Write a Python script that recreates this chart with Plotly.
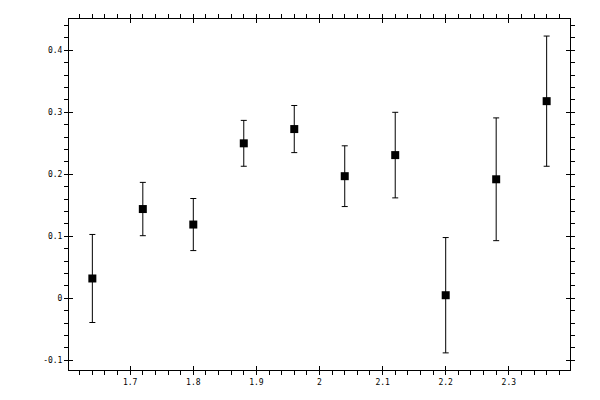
import plotly.graph_objects as go

# measured points with symmetric errors
x_vals = [1.64, 1.72, 1.80, 1.88, 1.96, 2.04, 2.12, 2.20, 2.28, 2.36]
y_vals = [0.032, 0.144, 0.119, 0.250, 0.273, 0.197, 0.231, 0.005, 0.192, 0.318]
y_errs = [0.071, 0.043, 0.042, 0.037, 0.038, 0.049, 0.069, 0.093, 0.099, 0.105]

x_ticks = [1.7, 1.8, 1.9, 2.0, 2.1, 2.2, 2.3]
x_ticktext = ["1.7", "1.8", "1.9", "2", "2.1", "2.2", "2.3"]
y_ticks = [-0.1, 0, 0.1, 0.2, 0.3, 0.4]
y_ticktext = ["-0.1", "0", "0.1", "0.2", "0.3", "0.4"]

x_range = [1.603, 2.397]
y_range = [-0.1156, 0.4505]

fig = go.Figure()
fig.add_trace(go.Scatter(
    x=x_vals, y=y_vals, mode="markers",
    marker=dict(symbol="square", size=8, color="black"),
    error_y=dict(type="data", array=y_errs, color="black", thickness=1, width=3),
    showlegend=False,
))
# dummy trace so the inward-tick overlay axes get drawn
fig.add_trace(go.Scatter(x=[x_ticks[0]], y=[y_ticks[0]], xaxis="x2", yaxis="y2",
                         mode="markers", marker=dict(opacity=0), showlegend=False,
                         hoverinfo="skip"))

axis_common = dict(showgrid=False, zeroline=False, showline=True, linecolor="black",
                   linewidth=1, mirror="ticks", tickcolor="black", tickwidth=1,
                   automargin=False)

# margins allow for the 8px page offset of the html body
fig.update_layout(
    width=600, height=400,
    margin=dict(l=61, r=38, t=11, b=38),
    paper_bgcolor="white", plot_bgcolor="white",
    font=dict(family="DejaVu Sans Mono", size=8, color="black"),
    xaxis=dict(range=x_range, tickvals=x_ticks, ticktext=x_ticktext,
               ticks="outside", ticklen=4,
               minor=dict(dtick=0.02, tick0=1.6, ticks="outside", ticklen=4,
                          tickcolor="black", tickwidth=1),
               **axis_common),
    yaxis=dict(range=y_range, tickvals=y_ticks, ticktext=y_ticktext,
               ticks="outside", ticklen=4,
               minor=dict(dtick=0.02, tick0=0, ticks="outside", ticklen=4,
                          tickcolor="black", tickwidth=1),
               **axis_common),
    xaxis2=dict(range=x_range, overlaying="x", anchor="y2", tickvals=x_ticks,
                showticklabels=False, ticks="inside", ticklen=4, **axis_common),
    yaxis2=dict(range=y_range, overlaying="y", anchor="x2", tickvals=y_ticks,
                showticklabels=False, ticks="inside", ticklen=4, **axis_common),
)

fig.write_html("out.html")
